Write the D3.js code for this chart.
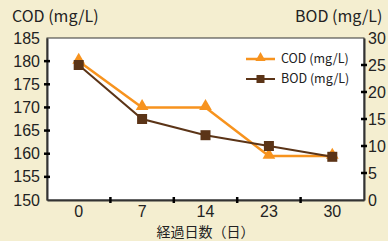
<!DOCTYPE html>
<html>
<head>
<meta charset="utf-8">
<script src="https://cdn.jsdelivr.net/npm/d3@7"></script>
<style>
body{margin:0;background:#f4eed0;}
svg{display:block;}
text{font-family:"Liberation Sans","Noto Sans CJK JP",sans-serif;fill:#222;}
.jp{font-family:"Noto Sans CJK JP",sans-serif;}
</style>
</head>
<body>
<div id="chart"></div>
<script>
var days = ["0","7","14","23","30"];
var cod = [180, 170, 170, 159.5, 159.5];
var bod = [25, 15, 12, 10, 8];
var codTicks = [150,155,160,165,170,175,180,185];
var bodTicks = [0,5,10,15,20,25,30];

var W = 388, H = 241;
var pLeft = 47, pRight = 364, pTop = 38, pBottom = 200;

var svg = d3.select("#chart").append("svg")
	.attr("width",W)
	.attr("height",H);

svg.append("rect")
	.attr("x",pLeft).attr("y",pTop)
	.attr("width",pRight-pLeft).attr("height",pBottom-pTop)
	.attr("fill","#fff")
	.attr("stroke","#333")
	.attr("stroke-width",1);

var x = d3.scaleBand().domain(days).range([pLeft,pRight]);
var yL = d3.scaleLinear().domain([150,185]).range([pBottom,pTop]);
var yR = d3.scaleLinear().domain([0,30]).range([pBottom,pTop]);

// axes
var axL = svg.append("g").attr("transform","translate("+pLeft+",0)")
	.call(d3.axisLeft(yL).tickValues(codTicks).tickSize(0).tickPadding(7));
var axR = svg.append("g").attr("transform","translate("+pRight+",0)")
	.call(d3.axisRight(yR).tickValues(bodTicks).tickSize(0).tickPadding(4));
var axB = svg.append("g").attr("transform","translate(0,"+pBottom+")")
	.call(d3.axisBottom(x).tickSize(0).tickPadding(6));
[axL,axR,axB].forEach(function(a){
	a.select(".domain").attr("stroke","#333").attr("stroke-width",2);
	a.selectAll("text").style("font-size","16px").attr("fill","#222");
});

// tick marks straddling the axes
svg.selectAll("line.tl").data(codTicks.slice(1,-1)).enter().append("line")
	.attr("x1",pLeft-3).attr("x2",pLeft+3)
	.attr("y1",function(d){return yL(d);}).attr("y2",function(d){return yL(d);})
	.attr("stroke","#000").attr("stroke-width",2.5);
svg.selectAll("line.tr").data(bodTicks.slice(1,-1)).enter().append("line")
	.attr("x1",pRight-3).attr("x2",pRight+3)
	.attr("y1",function(d){return yR(d);}).attr("y2",function(d){return yR(d);})
	.attr("stroke","#000").attr("stroke-width",2.5);
svg.selectAll("line.tb").data(days.slice(1)).enter().append("line")
	.attr("x1",function(d){return x(d);}).attr("x2",function(d){return x(d);})
	.attr("y1",pBottom-3).attr("y2",pBottom+3)
	.attr("stroke","#000").attr("stroke-width",2.5);

var cx = function(d,i){return x(days[i])+x.bandwidth()/2;};
var orange = "#f7931e", brown = "#5b3417";

// COD
svg.append("path").datum(cod)
	.attr("fill","none").attr("stroke",orange).attr("stroke-width",2.5)
	.attr("d",d3.line().x(cx).y(function(d){return yL(d);}));
var tri = d3.symbol().type(d3.symbolTriangle).size(70);
svg.selectAll("path.cod").data(cod).enter().append("path")
	.attr("class","cod")
	.attr("d",tri)
	.attr("fill",orange)
	.attr("transform",function(d,i){return "translate("+cx(d,i)+","+(yL(d)-1)+")";});

// BOD
svg.append("path").datum(bod)
	.attr("fill","none").attr("stroke",brown).attr("stroke-width",2)
	.attr("d",d3.line().x(cx).y(function(d){return yR(d);}));
svg.selectAll("rect.bod").data(bod).enter().append("rect")
	.attr("class","bod")
	.attr("x",function(d,i){return cx(d,i)-5;})
	.attr("y",function(d){return yR(d)-5;})
	.attr("width",10).attr("height",10)
	.attr("fill",brown);

// legend
var leg = svg.append("g").attr("transform","translate(246,59)");
leg.append("line").attr("x1",0).attr("x2",29).attr("y1",0).attr("y2",0)
	.attr("stroke",orange).attr("stroke-width",2.5);
leg.append("path").attr("d",d3.symbol().type(d3.symbolTriangle).size(45))
	.attr("fill",orange).attr("transform","translate(14.5,-1)");
leg.append("text").attr("class","jp").attr("x",35).attr("y",4).style("font-size","12.5px").text("COD (mg/L)");
leg.append("line").attr("x1",0).attr("x2",29).attr("y1",20).attr("y2",20)
	.attr("stroke",brown).attr("stroke-width",2);
leg.append("rect").attr("x",10.5).attr("y",16).attr("width",8).attr("height",8).attr("fill",brown);
leg.append("text").attr("class","jp").attr("x",35).attr("y",24).style("font-size","12.5px").text("BOD (mg/L)");

// axis titles
svg.append("text").attr("class","jp").attr("x",12).attr("y",22).style("font-size","16px").text("COD (mg/L)");
svg.append("text").attr("class","jp").attr("x",295).attr("y",22).style("font-size","16px").text("BOD (mg/L)");
svg.append("text").attr("class","jp").attr("x",(pLeft+pRight)/2).attr("y",237)
	.attr("text-anchor","middle").style("font-size","14px").text("経過日数（日）");
</script>
</body>
</html>
